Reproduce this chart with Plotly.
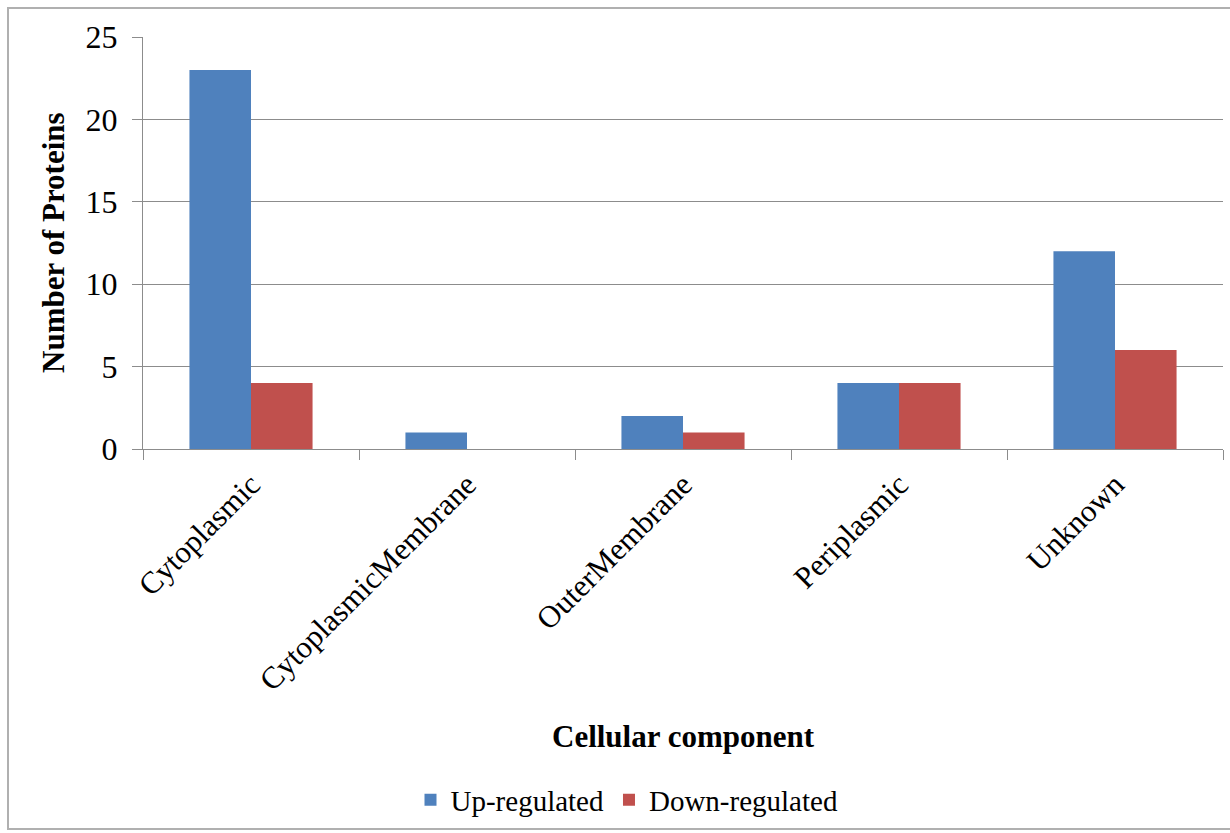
import plotly.graph_objects as go

# Protein counts per cellular component
categories = ["Cytoplasmic", "CytoplasmicMembrane", "OuterMembrane", "Periplasmic", "Unknown"]
up_regulated = [23, 1, 2, 4, 12]
down_regulated = [4, 0, 1, 4, 6]
y_ticks = [0, 5, 10, 15, 20, 25]

# Canvas and plot-area geometry (pixels)
W, H = 1230, 833
PL, PR, PT, PB = 143, 1223, 37, 449
PW, PH = PR - PL, PB - PT


def px_x(x):
    return (x - PL) / PW


def px_y(y):
    return (PB - y) / PH


SERIF = "Liberation Serif, Times New Roman, serif"
GRID = "#8c8c8c"

fig = go.Figure()
fig.add_trace(go.Bar(
    x=categories, y=up_regulated, name="Up-regulated",
    marker=dict(color="#4f81bd", line=dict(width=0)),
))
fig.add_trace(go.Bar(
    x=categories, y=down_regulated, name="Down-regulated",
    marker=dict(color="#c0504d", line=dict(width=0)),
))

fig.update_layout(
    width=W, height=H,
    margin=dict(l=PL, r=W - PR, t=PT, b=H - PB, autoexpand=False),
    paper_bgcolor="white", plot_bgcolor="white",
    barmode="group", bargap=0.43, bargroupgap=0.0,
    font=dict(family=SERIF, size=30, color="black"),
    showlegend=True,
    legend=dict(
        orientation="h", x=px_x(627), xanchor="center",
        y=px_y(800), yanchor="middle",
        font=dict(family=SERIF, size=29, color="black"),
        itemsizing="constant", itemwidth=30, traceorder="normal",
        bgcolor="rgba(0,0,0,0)",
    ),
)

fig.update_xaxes(
    type="category", tickangle=-45,
    showline=True, linecolor=GRID, linewidth=1,
    ticks="outside", ticklen=10, tickcolor=GRID, tickwidth=1,
    tickson="boundaries", showgrid=False,
    ticklabelstandoff=4,
    tickfont=dict(family=SERIF, size=31, color="black"),
)
fig.update_yaxes(
    range=[0, 25], tickvals=y_ticks,
    showline=True, linecolor=GRID, linewidth=1,
    ticks="outside", ticklen=10, tickcolor=GRID, tickwidth=1,
    showgrid=True, gridcolor=GRID, gridwidth=1, zeroline=False,
    ticklabelstandoff=8,
    tickfont=dict(family=SERIF, size=32, color="black"),
)

# Axis titles
fig.add_annotation(
    text="<b>Number of Proteins</b>", xref="paper", yref="paper",
    x=px_x(53), y=px_y(243), textangle=-90, showarrow=False,
    xanchor="center", yanchor="middle",
    font=dict(family=SERIF, size=31, color="black"),
)
fig.add_annotation(
    text="<b>Cellular component</b>", xref="paper", yref="paper",
    x=px_x(683), y=px_y(736), showarrow=False,
    xanchor="center", yanchor="middle",
    font=dict(family=SERIF, size=31, color="black"),
)

# Chart-area frame
fig.add_shape(
    type="rect", xref="paper", yref="paper",
    x0=px_x(8), x1=px_x(1245), y0=px_y(829), y1=px_y(8),
    line=dict(color="#b0b0b0", width=2), fillcolor="rgba(0,0,0,0)",
    layer="below",
)

fig.write_html("out.html")
